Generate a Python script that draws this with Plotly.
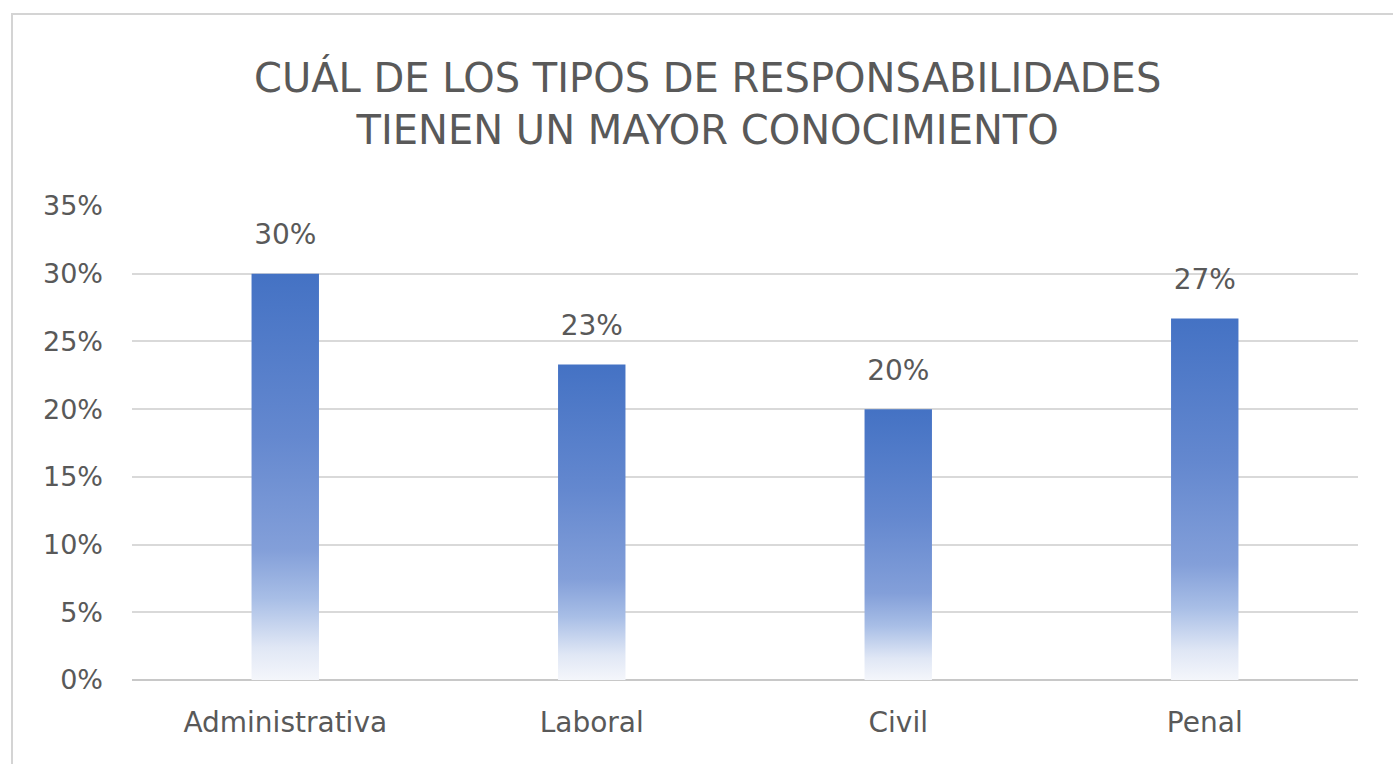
import plotly.graph_objects as go

# Survey results: share of respondents per type of responsibility
categories = ["Administrativa", "Laboral", "Civil", "Penal"]
shares = [0.30, 0.233, 0.20, 0.267]
y_ticks = [0, 0.05, 0.10, 0.15, 0.20, 0.25, 0.30, 0.35]

title_text = "CUÁL DE LOS TIPOS DE RESPONSABILIDADES<br>TIENEN UN MAYOR CONOCIMIENTO"

TEXT_GREY = "#595959"
GRID_GREY = "#d9d9d9"
FONT = "DejaVu Sans"
HALF_WIDTH = 0.11  # half bar width, in category units

# vertical fade: white at the base, solid blue at the top
bar_scale = [
    [0.0, "#f4f6fb"],
    [0.08, "#e0e7f5"],
    [0.2, "#a8bee6"],
    [0.32, "#839fd9"],
    [0.6, "#6488cf"],
    [1.0, "#4472c4"],
]

fig = go.Figure()

for i, (cat, val) in enumerate(zip(categories, shares)):
    xs = [i - HALF_WIDTH, i + HALF_WIDTH, i + HALF_WIDTH, i - HALF_WIDTH, i - HALF_WIDTH]
    ys = [0, 0, val, val, 0]
    fig.add_trace(go.Scatter(
        x=xs, y=ys, mode="lines", fill="toself",
        line=dict(width=0, color="rgba(0,0,0,0)"),
        fillgradient=dict(type="vertical", colorscale=bar_scale, start=0, stop=val),
        name=cat, hoverinfo="skip", showlegend=False,
    ))

# value labels above each bar (invisible marker keeps the text clear of the bar top)
fig.add_trace(go.Scatter(
    x=list(range(len(categories))), y=shares,
    mode="markers+text",
    marker=dict(size=34, color="rgba(0,0,0,0)"),
    text=[f"{v:.0%}" for v in shares],
    textposition="top center",
    textfont=dict(family=FONT, size=28, color=TEXT_GREY),
    showlegend=False, hoverinfo="skip",
))

fig.update_layout(
    width=1393, height=764,
    paper_bgcolor="white", plot_bgcolor="white",
    margin=dict(l=132, r=35, t=206, b=84),
    title=dict(
        text=title_text,
        x=0.508, xanchor="center",
        y=0.880, yanchor="middle",
        font=dict(family=FONT, size=40, color=TEXT_GREY),
    ),
    xaxis=dict(
        range=[-0.5, len(categories) - 0.5],
        tickmode="array",
        tickvals=list(range(len(categories))),
        ticktext=categories,
        showgrid=False, zeroline=False, showline=False,
        ticks="", ticklabelstandoff=23,
        tickfont=dict(family=FONT, size=28, color=TEXT_GREY),
        fixedrange=True,
    ),
    yaxis=dict(
        range=[0, 0.35],
        tickmode="array", tickvals=y_ticks,
        tickformat=".0%",
        showgrid=True, gridcolor=GRID_GREY, gridwidth=2,
        zeroline=True, zerolinecolor="#c8c8c8", zerolinewidth=2,
        showline=False, ticks="", ticklabelstandoff=28,
        tickfont=dict(family=FONT, size=27, color=TEXT_GREY),
        fixedrange=True,
    ),
    shapes=[
        # chart frame
        dict(type="rect", xref="paper", yref="paper",
             x0=(12 - 132) / 1226, x1=(1420 - 132) / 1226,
             y0=-(800 - 680) / 474, y1=1 + (206 - 14) / 474,
             line=dict(color="#d4d4d4", width=2), layer="below"),
    ],
)

fig.write_html("out.html")
